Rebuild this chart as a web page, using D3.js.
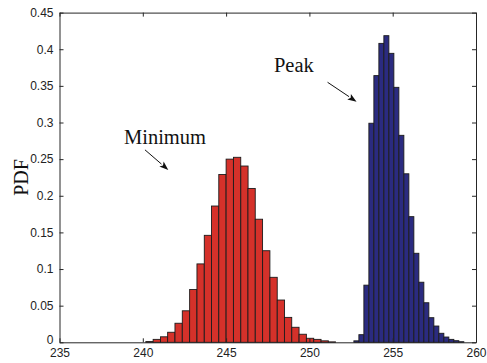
<!DOCTYPE html>
<html>
<head>
<meta charset="utf-8">
<script src="https://cdn.jsdelivr.net/npm/d3@7/dist/d3.min.js"></script>
<style>
  html, body { margin: 0; padding: 0; background: #fff; }
  svg { display: block; }
</style>
</head>
<body>
<svg id="chart" width="487" height="363"></svg>
<script>
// ---- data ----
const xTicks = [235, 240, 245, 250, 255, 260];
const yTicks = [0, 0.05, 0.1, 0.15, 0.2, 0.25, 0.3, 0.35, 0.4, 0.45];
const yTickLabels = ["0", "0.05", "0.1", "0.15", "0.2", "0.25", "0.3", "0.35", "0.4", "0.45"];

const minimumBinWidth = 0.438;
const minimumCenters = [240.40, 240.84, 241.28, 241.71, 242.15, 242.59, 243.03, 243.47, 243.91,
  244.34, 244.78, 245.22, 245.66, 246.10, 246.53, 246.97, 247.41, 247.85, 248.29, 248.72,
  249.16, 249.60, 250.04, 250.48, 250.92, 251.35];
const minimumPdf = [0.001, 0.004, 0.0075, 0.0137, 0.026, 0.043, 0.072, 0.107, 0.146,
  0.186, 0.229, 0.250, 0.2525, 0.2406, 0.210, 0.168, 0.125, 0.0887, 0.0577, 0.034,
  0.0205, 0.011, 0.0055, 0.004, 0.002, 0.0006];

const peakBinWidth = 0.3;
const peakCenters = [252.82, 253.12, 253.42, 253.72, 254.02, 254.32, 254.62, 254.92, 255.22,
  255.52, 255.82, 256.12, 256.42, 256.72, 257.02, 257.32, 257.62, 257.92, 258.22, 258.52,
  258.82, 259.12];
const peakPdf = [0.002, 0.0104, 0.078, 0.299, 0.364, 0.408, 0.4185, 0.3944, 0.348,
  0.2825, 0.230, 0.1715, 0.1215, 0.082, 0.054, 0.0336, 0.0222, 0.0123, 0.0072, 0.004,
  0.0022, 0.0008];

const yLabel = "PDF";
const annotations = [
  { text: "Peak", tx: 247.87, ty: 0.3685, x1: 251.09, y1: 0.3549, x2: 252.83, y2: 0.3284 },
  { text: "Minimum", tx: 238.87, ty: 0.270, x1: 240.13, y1: 0.2627, x2: 241.53, y2: 0.2352 }
];

// ---- layout ----
const plotLeft = 59.5, plotRight = 476, plotTop = 12.6, plotBottom = 342.3;
const svg = d3.select("#chart");
const x = d3.scaleLinear().domain([235, 260]).range([plotLeft, plotRight]);
const y = d3.scaleLinear().domain([0, 0.45]).range([plotBottom, plotTop]);

const axisColor = "#262626";
const tickFont = "Liberation Sans, Arial, sans-serif";
const serif = "Liberation Serif, Times New Roman, serif";

// bars
function drawBars(centers, values, w, fill, cls) {
  const data = centers.map((c, i) => ({ c, v: values[i] }));
  svg.append("g").attr("class", cls)
    .selectAll("rect").data(data).join("rect")
    .attr("x", d => x(d.c - w / 2))
    .attr("width", d => x(d.c + w / 2) - x(d.c - w / 2))
    .attr("y", d => y(d.v))
    .attr("height", d => y(0) - y(d.v))
    .attr("fill", fill)
    .attr("stroke", "#1c1c1c")
    .attr("stroke-width", 0.9);
}
drawBars(minimumCenters, minimumPdf, minimumBinWidth, "#d5312a", "minimum");
drawBars(peakCenters, peakPdf, peakBinWidth, "#2b2b80", "peak");

// axes (box with inward ticks)
const tickLen = 4;
const gB = svg.append("g").attr("transform", `translate(0,${plotBottom})`)
  .call(d3.axisBottom(x).tickValues(xTicks).tickSizeInner(-tickLen).tickSizeOuter(0).tickPadding(7).tickFormat(d3.format("d")));
const gT = svg.append("g").attr("transform", `translate(0,${plotTop})`)
  .call(d3.axisTop(x).tickValues(xTicks).tickSizeInner(-tickLen).tickSizeOuter(0).tickFormat(""));
const gL = svg.append("g").attr("transform", `translate(${plotLeft},0)`)
  .call(d3.axisLeft(y).tickValues(yTicks).tickSizeInner(-tickLen).tickSizeOuter(0).tickPadding(6)
    .tickFormat((d, i) => yTickLabels[i]));
const gR = svg.append("g").attr("transform", `translate(${plotRight},0)`)
  .call(d3.axisRight(y).tickValues(yTicks).tickSizeInner(-tickLen).tickSizeOuter(0).tickFormat(""));

[gB, gT, gL, gR].forEach(g => {
  g.select(".domain").attr("stroke", axisColor).attr("stroke-width", 1);
  g.selectAll(".tick line").attr("stroke", axisColor).attr("stroke-width", 1);
  g.selectAll(".tick text").attr("fill", "#222").style("font-family", tickFont).style("font-size", "12px");
});
gB.selectAll(".tick text").attr("dy", "0.62em");
// lift the "0" label a little, as in the reference, so it clears "235"
gL.selectAll(".tick text").filter(d => d === 0).attr("dy", "0.1em");

// y label
svg.append("text")
  .attr("transform", `translate(28,${(plotTop + plotBottom) / 2}) rotate(-90)`)
  .attr("text-anchor", "middle")
  .style("font-family", serif).style("font-size", "20px").attr("fill", "#111")
  .text(yLabel);

// annotations with arrows
annotations.forEach(a => {
  svg.append("text").attr("x", x(a.tx)).attr("y", y(a.ty))
    .style("font-family", serif).style("font-size", "20.5px").attr("fill", "#111")
    .text(a.text);
  const X1 = x(a.x1), Y1 = y(a.y1), X2 = x(a.x2), Y2 = y(a.y2);
  const ang = Math.atan2(Y2 - Y1, X2 - X1);
  const hl = 9, hw = 3.3;
  const bx = X2 - hl * Math.cos(ang), by = Y2 - hl * Math.sin(ang);
  svg.append("line").attr("x1", X1).attr("y1", Y1).attr("x2", bx).attr("y2", by)
    .attr("stroke", "#111").attr("stroke-width", 1);
  const px = -Math.sin(ang), py = Math.cos(ang);
  svg.append("path")
    .attr("d", `M${X2},${Y2}L${bx + hw * px},${by + hw * py}L${bx + 2 * Math.cos(ang)},${by + 2 * Math.sin(ang)}L${bx - hw * px},${by - hw * py}Z`)
    .attr("fill", "#111");
});
</script>
</body>
</html>
